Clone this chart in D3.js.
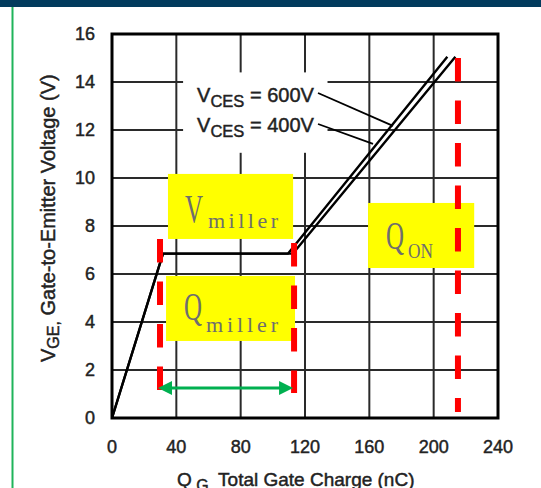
<!DOCTYPE html>
<html lang="en">
<head>
  <meta charset="UTF-8">
  <title>Gate charge</title>
  <script src="https://d3js.org/d3.v7.min.js"></script>
  <style>
    body { margin: 0; background: #fff; }
  </style>
</head>
<body>
  <div class="canvas"></div>
  <script>
    // axis ticks
    const xTicks = [0, 40, 80, 120, 160, 200, 240];
    const yTicks = [0, 2, 4, 6, 8, 10, 12, 14, 16];

    // gate charge curves
    const qg400 = [0, 31.7, 109.5, 208.5];
    const vge400 = [0, 6.85, 6.85, 15.05];
    const qg600 = [0, 31.7, 112.5, 213.5];
    const vge600 = [0, 6.85, 6.85, 15.05];

    // red dashed markers: charge, top and bottom voltage
    const markQ = [29.85, 113.2, 215.1];
    const markTop = [7.46, 7.29, 15.0];
    const markBottom = [1.04, 1.04, 0.25];

    const W = 541, H = 488;
    const svg = d3.select('.canvas')
      .append('svg')
      .attr('width', W)
      .attr('height', H)
      .style('font-family', 'Liberation Sans, Arial, sans-serif');

    const x = d3.scaleLinear().domain([0, 240]).range([112, 498]);
    const y = d3.scaleLinear().domain([0, 16]).range([418, 34]);

    // top banner and left green rule
    svg.append('rect').attr('x', 0).attr('y', 0).attr('width', W).attr('height', 7).attr('fill', '#023b5d');
    svg.append('line').attr('x1', 12.5).attr('x2', 12.5).attr('y1', 7).attr('y2', H)
      .attr('stroke', '#1fb45a').attr('stroke-width', 2);

    const g = svg.append('g');

    // grid
    g.selectAll('.vgrid')
      .data(xTicks.slice(1, -1))
      .enter().append('line')
      .attr('x1', d => x(d)).attr('x2', d => x(d))
      .attr('y1', y(16)).attr('y2', y(0))
      .attr('stroke', '#2a2a2a').attr('stroke-width', 2);
    g.selectAll('.hgrid')
      .data(yTicks.slice(1, -1))
      .enter().append('line')
      .attr('x1', x(0)).attr('x2', x(240))
      .attr('y1', d => y(d)).attr('y2', d => y(d))
      .attr('stroke', '#2a2a2a').attr('stroke-width', 2);

    // white patch behind the VCES labels
    g.append('rect')
      .attr('x', x(44.2)).attr('y', y(14.4))
      .attr('width', x(134) - x(44.2)).attr('height', y(11.05) - y(14.4))
      .attr('fill', '#fff');

    // frame
    g.append('rect')
      .attr('x', x(0)).attr('y', y(16))
      .attr('width', x(240) - x(0)).attr('height', y(0) - y(16))
      .attr('fill', 'none').attr('stroke', '#000').attr('stroke-width', 3);

    // printed text is a little heavy in the scan
    const ink = sel => sel.attr('fill', '#222').attr('stroke', '#222').attr('stroke-width', 0.45);

    // tick labels
    g.selectAll('.xl')
      .data(xTicks)
      .enter().append('text')
      .attr('x', d => x(d)).attr('y', 453)
      .attr('text-anchor', 'middle')
      .attr('font-size', 18)
      .call(ink)
      .text(d => d);
    g.selectAll('.yl')
      .data(yTicks)
      .enter().append('text')
      .attr('x', 95).attr('y', d => y(d))
      .attr('dy', '0.35em')
      .attr('text-anchor', 'end')
      .attr('font-size', 18)
      .call(ink)
      .text(d => d);

    // axis titles
    const xt = g.append('text').attr('x', 177).attr('y', 486).attr('font-size', 19).call(ink);
    xt.append('tspan').text('Q');
    xt.append('tspan').attr('font-size', 16).attr('dy', 5).text(' G,');
    xt.append('tspan').attr('dy', -5).text(' Total Gate Charge (nC)');

    const yt = g.append('text')
      .attr('transform', 'translate(55, 362) rotate(-90)')
      .attr('font-size', 20).call(ink);
    yt.append('tspan').text('V');
    yt.append('tspan').attr('font-size', 16).attr('dy', 4).text('GE,');
    yt.append('tspan').attr('dy', -4).text(' Gate-to-Emitter Voltage (V)');

    // curves
    const line = d3.line().x(d => x(d[0])).y(d => y(d[1]));
    const curves = [d3.zip(qg400, vge400), d3.zip(qg600, vge600)];
    g.selectAll('.curve')
      .data(curves)
      .enter().append('path')
      .attr('d', line)
      .attr('fill', 'none').attr('stroke', '#000').attr('stroke-width', 2.4)
      .attr('stroke-linejoin', 'round');

    // VCES labels with leader lines
    const labels = [
      { v: '600V', at: [52.9, 13.17], from: [128.1, 13.54], to: [174.7, 12.17] },
      { v: '400V', at: [52.9, 11.92], from: [128.1, 12.25], to: [162.3, 11.42] }
    ];
    labels.forEach(l => {
      g.append('line')
        .attr('x1', x(l.from[0])).attr('y1', y(l.from[1]))
        .attr('x2', x(l.to[0])).attr('y2', y(l.to[1]))
        .attr('stroke', '#000').attr('stroke-width', 1.8);
      const t = g.append('text').attr('x', x(l.at[0])).attr('y', y(l.at[1]))
        .attr('font-size', 20).call(ink);
      t.append('tspan').text('V');
      t.append('tspan').attr('font-size', 16.5).attr('dy', 5).text('CES');
      t.append('tspan').attr('dy', -5).text(' = ' + l.v);
    });

    // yellow annotation boxes
    const boxes = [
      { x0: 34.8, x1: 112.6, y0: 10.17, y1: 7.46, main: 'V', sub: 'miller', mx: 185, my: 222, sx: 208, sy: 228, sw: 70 },
      { x0: 33.6, x1: 113.8, y0: 5.92, y1: 3.21, main: 'Q', sub: 'miller', mx: 184, my: 320, sx: 206, sy: 332, sw: 72 },
      { x0: 159.2, x1: 225.2, y0: 8.96, y1: 6.25, main: 'Q', sub: 'ON', mx: 386, my: 249, sx: 408, sy: 258, sw: 25 }
    ];
    boxes.forEach(b => {
      g.append('rect')
        .attr('x', x(b.x0)).attr('y', y(b.y0))
        .attr('width', x(b.x1) - x(b.x0)).attr('height', y(b.y1) - y(b.y0))
        .attr('fill', '#ffff00');
      g.append('text').attr('x', b.mx).attr('y', b.my)
        .attr('font-family', 'Liberation Serif, serif').attr('font-size', 40)
        .attr('textLength', 18).attr('lengthAdjust', 'spacingAndGlyphs')
        .attr('fill', '#6e6e6e').text(b.main);
      g.append('text').attr('x', b.sx).attr('y', b.sy)
        .attr('font-family', 'Liberation Serif, serif').attr('font-size', 22)
        .attr('textLength', b.sw).attr('lengthAdjust', b.sub === 'ON' ? 'spacingAndGlyphs' : 'spacing')
        .attr('fill', '#6e6e6e').text(b.sub);
    });

    // red dashed markers
    g.selectAll('.mark')
      .data(markQ)
      .enter().append('line')
      .attr('x1', d => x(d)).attr('x2', d => x(d))
      .attr('y1', (d, i) => y(markTop[i])).attr('y2', (d, i) => y(markBottom[i]))
      .attr('stroke', '#ff0000').attr('stroke-width', 6)
      .attr('stroke-dasharray', '23.5 19');

    // green double arrow across the miller plateau
    const ay = y(1.25), ax0 = x(markQ[0]) - 2, ax1 = x(markQ[1]) - 1;
    g.append('line')
      .attr('x1', ax0 + 10).attr('x2', ax1 - 10).attr('y1', ay).attr('y2', ay)
      .attr('stroke', '#00b050').attr('stroke-width', 3);
    g.append('path')
      .attr('d', `M${ax0},${ay} L${ax0 + 14},${ay - 7} L${ax0 + 14},${ay + 7} Z`)
      .attr('fill', '#00b050');
    g.append('path')
      .attr('d', `M${ax1},${ay} L${ax1 - 14},${ay - 7} L${ax1 - 14},${ay + 7} Z`)
      .attr('fill', '#00b050');
  </script>
</body>
</html>
